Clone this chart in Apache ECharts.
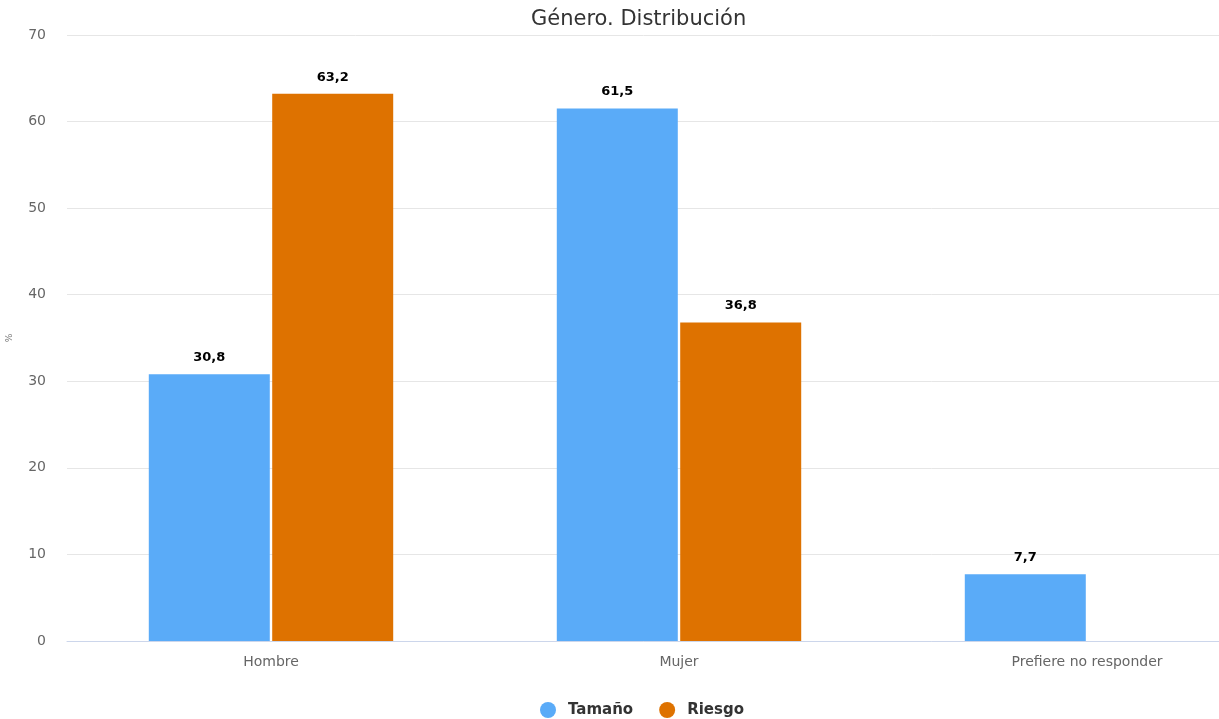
<!DOCTYPE html>
<html>
<head>
<meta charset="utf-8">
<script src="https://cdn.jsdelivr.net/npm/echarts@6/dist/echarts.min.js"></script>
<style>
  html, body { margin: 0; padding: 0; background: #fff; }
  #chart { width: 1219px; height: 719px; }
</style>
</head>
<body>
<div id="chart"></div>
<script>
// Gender distribution, share of respondents (%)
const categories = ['Hombre', 'Mujer', 'Prefiere no responder'];
const tamano = [30.8, 61.5, 7.7];
const riesgo = [63.2, 36.8, null];
const seriesNames = ['Tamaño', 'Riesgo'];
const colors = ['#5aabf8', '#de7200'];

const FONT = 'DejaVu Sans';
const fmt = p => (p.value == null ? '' : String(p.value).replace('.', ','));

const chart = echarts.init(document.getElementById('chart'), null, { renderer: 'canvas' });
chart.setOption({
  animation: false,
  textStyle: { fontFamily: FONT },
  title: {
    text: 'Género. Distribución',
    left: 526,
    top: 4,
    textStyle: { fontFamily: FONT, fontSize: 21, fontWeight: 'normal', color: '#333' }
  },
  legend: {
    data: seriesNames,
    top: 697,
    left: 535,
    icon: 'circle',
    itemWidth: 16,
    itemHeight: 16,
    itemGap: 26,
    textStyle: { fontFamily: FONT, fontSize: 15, fontWeight: 'bold', color: '#333', padding: [0, 0, 0, 7] }
  },
  grid: { left: 67, right: -72, top: 35, bottom: 78, containLabel: false, outerBoundsMode: 'none' },
  xAxis: {
    type: 'category',
    data: categories,
    axisLine: { lineStyle: { color: '#ccd6eb' } },
    axisTick: { show: false },
    axisLabel: { fontFamily: FONT, fontSize: 14, color: '#666', margin: 14 }
  },
  yAxis: {
    type: 'value',
    min: 0,
    max: 70,
    interval: 10,
    name: '%',
    nameLocation: 'middle',
    nameGap: 53,
    nameRotate: 90,
    nameTextStyle: { fontFamily: FONT, fontSize: 9, color: '#777' },
    axisLine: { show: false },
    axisTick: { show: false },
    axisLabel: { fontFamily: FONT, fontSize: 14, color: '#666', margin: 21 },
    splitLine: { lineStyle: { color: '#e6e6e6' } }
  },
  series: [
    {
      name: seriesNames[0],
      type: 'bar',
      data: tamano,
      barWidth: 121,
      barGap: '2%',
      itemStyle: { color: colors[0] },
      label: { show: true, position: 'top', distance: 10, formatter: fmt,
               fontFamily: FONT, fontSize: 13, fontWeight: 'bold', color: '#000' }
    },
    {
      name: seriesNames[1],
      type: 'bar',
      data: riesgo,
      barWidth: 121,
      itemStyle: { color: colors[1] },
      label: { show: true, position: 'top', distance: 10, formatter: fmt,
               fontFamily: FONT, fontSize: 13, fontWeight: 'bold', color: '#000' }
    }
  ]
});
</script>
</body>
</html>
